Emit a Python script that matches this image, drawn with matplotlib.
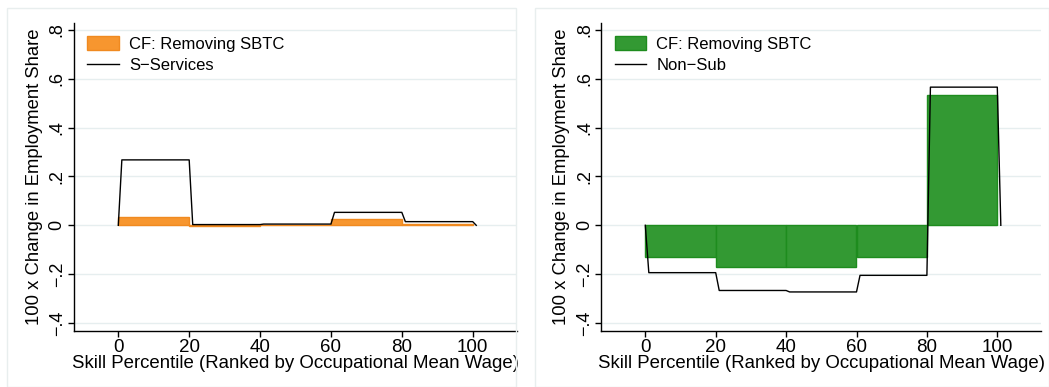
import matplotlib
matplotlib.use("Agg")
import matplotlib.pyplot as plt
from matplotlib.patches import Rectangle, Patch
from matplotlib.lines import Line2D
import numpy as np

plt.rcParams['font.family'] = ['Liberation Sans', 'DejaVu Sans']

bin_edges = [0, 20, 40, 60, 80]
bin_width = 20
xticks = [0, 20, 40, 60, 80, 100]
yticks = [-0.4, -0.2, 0, 0.2, 0.4, 0.6, 0.8]
ytick_labels = ["\u2212.4", "\u2212.2", "0", ".2", ".4", ".6", ".8"]

left_bars = [0.034, -0.002, 0.002, 0.026, 0.007]
left_line = [0.268, 0.003, 0.005, 0.053, 0.015]
left_line_label = "S\u2212Services"

right_bars = [-0.129, -0.172, -0.172, -0.129, 0.533]
right_line = [-0.194, -0.267, -0.273, -0.205, 0.566]
right_line_label = "Non\u2212Sub"

bar_label = "CF: Removing SBTC"
xlabel = "Skill Percentile (Ranked by Occupational Mean Wage)"
ylabel = "100 x Change in Employment Share"


def step_path(edges, width, vals):
    xs, ys = [edges[0]], [0.0]
    for e, v in zip(edges, vals):
        xs += [e + 1, e + width]
        ys += [v, v]
    xs.append(edges[-1] + width + 1)
    ys.append(0.0)
    return xs, ys


W, H = 1049, 387
fig = plt.figure(figsize=(W / 100, H / 100), dpi=100)

# panel borders
for x0, x1 in [(7, 516), (535, 1049)]:
    fig.patches.append(Rectangle((x0 / W, 0.0 / H), (x1 - x0) / W, (H - 8) / H,
                                 transform=fig.transFigure, fill=False,
                                 edgecolor="#E8EEEE", linewidth=1.0))

axes_specs = [
    ([74 / W, 56 / H, 443 / W, 308.3 / H], left_bars, left_line, left_line_label, "#F7962F", "#F08A20"),
    ([601.3 / W, 56 / H, 440 / W, 308.3 / H], right_bars, right_line, right_line_label, "#339933", "#1E8C1E"),
]

for rect, bars, line, line_label, fc, ec in axes_specs:
    ax = fig.add_axes(rect)
    ax.bar(bin_edges, bars, width=bin_width, align='edge', color=fc,
           edgecolor=ec, linewidth=1.0, zorder=2)
    xs, ys = step_path(bin_edges, bin_width, line)
    ax.plot(xs, ys, color="black", linewidth=1.0, zorder=3)
    ax.set_xlim(-12.5, 112.5)
    ax.set_ylim(-0.433, 0.83)
    ax.set_xticks(xticks)
    ax.set_xticklabels([str(t) for t in xticks], fontsize=13.5)
    ax.set_yticks(yticks)
    ax.set_yticklabels(ytick_labels, fontsize=13, rotation=90, va='center')
    for t in yticks:
        ax.axhline(t, color="#E6EEEF", linewidth=1.0, zorder=0)
    ax.spines['top'].set_visible(False)
    ax.spines['right'].set_visible(False)
    ax.spines['left'].set_linewidth(1.0)
    ax.spines['bottom'].set_linewidth(1.0)
    ax.tick_params(axis='both', direction='out', length=4, width=1.0, pad=2)
    ax.set_xlabel(xlabel, fontsize=13.4, labelpad=-1)
    ax.set_ylabel(ylabel, fontsize=13.3, labelpad=4)
    handles = [Patch(facecolor=fc, edgecolor=ec, label=bar_label),
               Line2D([0], [0], color="black", linewidth=1.0, label=line_label)]
    ax.legend(handles=handles, loc='upper left', bbox_to_anchor=(0.0, 1.0),
              frameon=False, fontsize=12, handlelength=1.9, handleheight=0.9,
              handletextpad=0.6, labelspacing=0.35, borderaxespad=0.4)

fig.savefig("out.png", dpi=100)
